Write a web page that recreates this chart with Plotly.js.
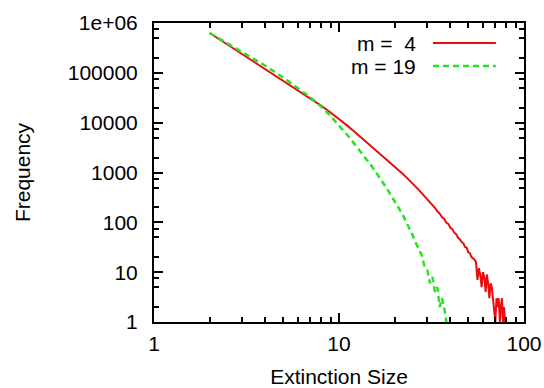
<!DOCTYPE html>
<html>
<head>
<meta charset="utf-8">
<script src="https://cdn.plot.ly/plotly-3.0.1.min.js"></script>
<style>html,body{margin:0;padding:0;background:#fff;}#chart{width:544px;height:388px;}</style>
</head>
<body>
<div id="chart"></div>
<script>
// Extinction size (x) and frequency (y)
const sizeM4 = [2,3,4,5,6,7,8,9,10,11,12,13,14,15,16,17,18,19,20,21,22,23,24,25,26,27,28,29,30,31,32,33,34,35,36,37,38,39,40,41,42,43,44,45,46,47,48,49,50,51,52,53,54,55,56,57,58,59,60,61,62,63,64,65,66,67,68,69,70,71,72,73,74,75,76,77,78,79,80];
const freqM4 = [631000,239000,119700,70000,45200,31000,22000,16000,11900,8930,6810,5280,4180,3350,2720,2245,1860,1563,1320,1119,955,818,703,601,518,448,385,335,290,258,218,196,166,151,128,118,99,93,78,73,62,58,49,46,40,38,32,31,25,24,20,19,18,16,7,12,9,5,10,8,4,9,6,3,6,5,3,2,1,3,2,3,1,2,3,1,2,1,1];

const sizeM19 = [2,3,4,5,6,7,8,9,10,11,12,13,14,15,16,17,18,19,20,21,22,23,24,25,26,27,28,29,30,31,32,33,34,35,36,37,38,39];
const freqM19 = [631000,265000,139000,80400,49500,32300,21100,13600,8700,5900,3930,2700,1920,1350,955,695,500,360,267,200,147,105,78,55,39,28,22,13,11,6,8,4,5,2,3,2,1,1];

const seriesNames = ['m =  4', 'm = 19'];
const xTickVals = [1, 10, 100];
const xTickText = ['1', '10', '100'];
const yTickVals = [1, 10, 100, 1000, 10000, 100000, 1000000];
const yTickText = ['1', '10', '100', '1000', '10000', '100000', '1e+06'];
const xMinorTicks = [2,3,4,5,6,7,8,9,20,30,40,50,60,70,80,90];
const yMinorTicks = [];
[1, 10, 100, 1000, 10000, 100000].forEach(function (d) { [2, 5, 7.5].forEach(function (m) { yMinorTicks.push(d * m); }); });

const RED = 'rgb(235,12,14)';
const GREEN = 'rgb(38,228,34)';
const FONT = 'Liberation Sans, Arial, Helvetica, sans-serif';

const traces = [
  {x: sizeM4, y: freqM4, name: seriesNames[0], type: 'scatter', mode: 'lines',
   line: {color: RED, width: 2}},
  {x: sizeM19, y: freqM19, name: seriesNames[1], type: 'scatter', mode: 'lines',
   line: {color: GREEN, width: 2.5, dash: '6px,4px'}}
];

function axisBase(minorVals) {
  return {
    type: 'log', showline: true, linecolor: '#000', linewidth: 2,
    mirror: 'allticks', ticks: 'inside', ticklen: 9, tickwidth: 2, tickcolor: '#000',
    showgrid: false, zeroline: false, tickmode: 'array',
    tickfont: {family: FONT, size: 21, color: '#000'},
    minor: {ticks: 'inside', ticklen: 5, tickwidth: 2, tickcolor: '#000',
            tickmode: 'array', tickvals: minorVals, showgrid: false}
  };
}

const layout = {
  width: 544, height: 388,
  margin: {l: 154, r: 20, t: 23, b: 66},
  paper_bgcolor: '#fff', plot_bgcolor: '#fff',
  showlegend: false,
  font: {family: FONT, size: 21, color: '#000'},
  xaxis: Object.assign(axisBase(xMinorTicks), {
    range: [0, 2], tickvals: xTickVals, ticktext: xTickText, ticklabelstandoff: 2,
    title: {text: 'Extinction Size', font: {family: FONT, size: 21, color: '#000'}, standoff: 18}
  }),
  yaxis: Object.assign(axisBase(yMinorTicks), {
    range: [0, 6], tickvals: yTickVals, ticktext: yTickText, ticklabelstandoff: 10,
    title: {text: 'Frequency', font: {family: FONT, size: 21, color: '#000'}, standoff: 31}
  }),
  annotations: [
    {xref: 'paper', yref: 'paper', x: 0.7135, y: 0.933, xanchor: 'right', yanchor: 'middle',
     text: seriesNames[0], showarrow: false, font: {family: FONT, size: 21, color: '#000'}},
    {xref: 'paper', yref: 'paper', x: 0.7135, y: 0.856, xanchor: 'right', yanchor: 'middle',
     text: seriesNames[1], showarrow: false, font: {family: FONT, size: 21, color: '#000'}}
  ],
  shapes: [
    {type: 'line', xref: 'paper', yref: 'paper', x0: 0.754, x1: 0.924, y0: 0.933, y1: 0.933,
     line: {color: RED, width: 2}},
    {type: 'line', xref: 'paper', yref: 'paper', x0: 0.754, x1: 0.924, y0: 0.856, y1: 0.856,
     line: {color: GREEN, width: 2.5, dash: '6px,4px'}}
  ]
};

Plotly.newPlot('chart', traces, layout, {displayModeBar: false, staticPlot: true});
</script>
</body>
</html>
